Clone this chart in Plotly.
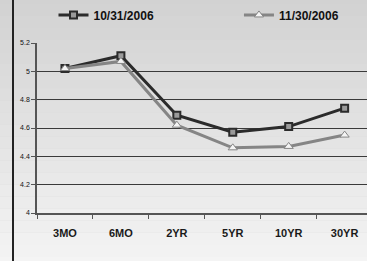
import plotly.graph_objects as go

categories = ["3MO", "6MO", "2YR", "5YR", "10YR", "30YR"]
s1_name = "10/31/2006"
s1_values = [5.02, 5.11, 4.69, 4.57, 4.61, 4.74]
s2_name = "11/30/2006"
s2_values = [5.02, 5.07, 4.62, 4.46, 4.47, 4.55]
y_ticks = [4.0, 4.2, 4.4, 4.6, 4.8, 5.0, 5.2]
y_tick_labels = ["4", "4.2", "4.4", "4.6", "4.8", "5", "5.2"]

W, H = 367, 261
fig = go.Figure()
fig.add_trace(go.Scatter(
    x=categories, y=s1_values, name="<b>" + s1_name + "</b>", mode="lines+markers",
    line=dict(color="#2b2b2b", width=3),
    marker=dict(symbol="square", size=7, color="#9a9a9a", line=dict(color="#2b2b2b", width=2)),
    legend="legend",
))
fig.add_trace(go.Scatter(
    x=categories, y=s2_values, name="<b>" + s2_name + "</b>", mode="lines+markers",
    line=dict(color="#858585", width=3),
    marker=dict(symbol="triangle-up", size=8, color="#f4f4f4", line=dict(color="#858585", width=1)),
    legend="legend2",
))

# background gradient bands
n = 24
shapes = []
for i in range(n):
    t = i / (n - 1)
    g = int(210 + (246 - 210) * t)
    col = f"rgb({g},{g},{g})"
    shapes.append(dict(type="rect", xref="paper", yref="paper",
                       x0=-0.2, x1=1.1, y0=1.3 - (i + 1) * 1.7 / n, y1=1.3 - i * 1.7 / n,
                       fillcolor=col, line=dict(width=0), layer="below"))
# left frame line
shapes.append(dict(type="line", xref="paper", yref="paper",
                   x0=-(37 - 13) / (W - 37), x1=-(37 - 13) / (W - 37), y0=-1, y1=2,
                   line=dict(color="#222", width=2)))

leg_common = dict(orientation="h", yanchor="middle", xanchor="left", y=1.165,
                  bgcolor="rgba(0,0,0,0)",
                  font=dict(family="Liberation Sans, Arial", size=12, color="#111"),
                  itemsizing="trace")
fig.update_layout(
    width=W, height=H,
    margin=dict(l=37, r=0, t=43, b=48, autoexpand=False),
    paper_bgcolor="#d8d8d8", plot_bgcolor="rgba(0,0,0,0)",
    shapes=shapes,
    showlegend=True,
    legend=dict(x=0.05, **leg_common),
    legend2=dict(x=0.612, **leg_common),
    font=dict(family="Liberation Sans, Arial", color="#111"),
)
fig.update_xaxes(
    type="category", range=[-0.5, 5.4], showline=True, linecolor="#555", linewidth=1.5,
    tickmode="array", tickvals=categories, ticktext=["<b>" + c + "</b>" for c in categories],
    ticks="outside", tickson="boundaries", ticklen=4, tickcolor="#555",
    showgrid=False, tickfont=dict(size=11, color="#1a1a1a"), ticklabelstandoff=9,
)
fig.update_yaxes(
    range=[4, 5.2], tickvals=y_ticks, ticktext=y_tick_labels,
    showline=True, linecolor="#555", linewidth=1.5,
    ticks="outside", ticklen=4, tickcolor="#555",
    showgrid=True, gridcolor="#3a3a3a", gridwidth=1,
    tickfont=dict(size=7, color="#111"), zeroline=False,
)
fig.write_html("out.html", config={"displayModeBar": False},
               post_script="document.body.style.margin='0';document.body.style.overflow='hidden';")
